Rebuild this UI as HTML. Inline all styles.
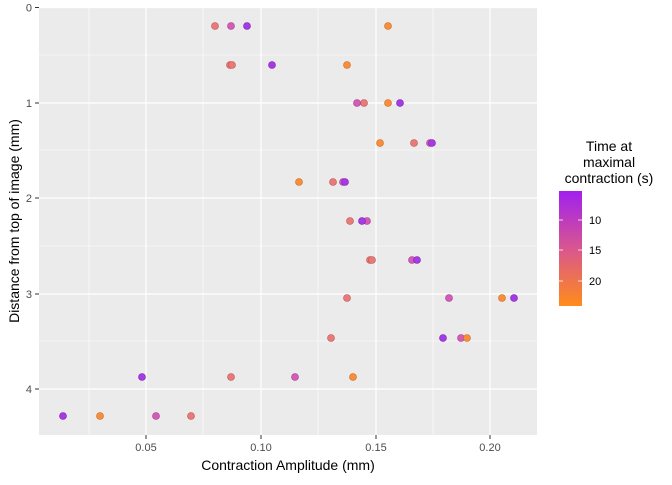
<!DOCTYPE html>
<html><head><style>body{margin:0;background:#fff}</style></head><body>
<svg width="672" height="480" xmlns="http://www.w3.org/2000/svg" font-family="Liberation Sans, sans-serif">
<defs><linearGradient id="g" x1="0" y1="0" x2="0" y2="1"><stop offset="0" stop-color="#A020F0"/><stop offset="0.5" stop-color="#D9568F"/><stop offset="1" stop-color="#FF8C1A"/></linearGradient></defs>
<rect x="39" y="7" width="498" height="428" fill="#EBEBEB"/>
<g stroke="#fff" stroke-width="0.6">
<line x1="89" y1="7" x2="89" y2="435"/><line x1="203" y1="7" x2="203" y2="435"/><line x1="318" y1="7" x2="318" y2="435"/><line x1="433" y1="7" x2="433" y2="435"/>
<line x1="39" y1="55" x2="537" y2="55"/><line x1="39" y1="150" x2="537" y2="150"/><line x1="39" y1="246" x2="537" y2="246"/><line x1="39" y1="341" x2="537" y2="341"/>
</g>
<g stroke="#fff" stroke-width="1.2">
<line x1="146" y1="7" x2="146" y2="435"/><line x1="261" y1="7" x2="261" y2="435"/><line x1="376" y1="7" x2="376" y2="435"/><line x1="490" y1="7" x2="490" y2="435"/>
<line x1="39" y1="7.5" x2="537" y2="7.5"/><line x1="39" y1="103" x2="537" y2="103"/><line x1="39" y1="198" x2="537" y2="198"/><line x1="39" y1="294" x2="537" y2="294"/><line x1="39" y1="389" x2="537" y2="389"/>
</g>
<g stroke="#333" stroke-width="1">
<line x1="35" y1="7.5" x2="39" y2="7.5"/><line x1="35" y1="103" x2="39" y2="103"/><line x1="35" y1="198" x2="39" y2="198"/><line x1="35" y1="294" x2="39" y2="294"/><line x1="35" y1="389" x2="39" y2="389"/>
<line x1="146" y1="435" x2="146" y2="439"/><line x1="261" y1="435" x2="261" y2="439"/><line x1="376" y1="435" x2="376" y2="439"/><line x1="490" y1="435" x2="490" y2="439"/>
</g>
<g font-size="11" fill="#4D4D4D" text-anchor="end">
<text x="32" y="11.5">0</text><text x="32" y="107">1</text><text x="32" y="202">2</text><text x="32" y="298">3</text><text x="32" y="393">4</text>
</g>
<g font-size="11" fill="#4D4D4D" text-anchor="middle">
<text x="146" y="451">0.05</text><text x="261" y="451">0.10</text><text x="376" y="451">0.15</text><text x="490" y="451">0.20</text>
</g>
<text x="288" y="470" font-size="14" text-anchor="middle">Contraction Amplitude (mm)</text>
<text transform="translate(19,221) rotate(-90)" font-size="14" text-anchor="middle">Distance from top of image (mm)</text>
<g stroke-width="0.6">
<g fill="#E87A7A" stroke="#C05050">
<circle cx="215" cy="26" r="3.5"/><circle cx="230" cy="65" r="3.5"/><circle cx="364" cy="103" r="3.5"/><circle cx="414" cy="143" r="3.5"/><circle cx="333" cy="182" r="3.5"/><circle cx="350" cy="221" r="3.5"/><circle cx="370" cy="260" r="3.5"/><circle cx="372" cy="260" r="3.5"/><circle cx="347" cy="298" r="3.5"/><circle cx="331" cy="338" r="3.5"/><circle cx="231" cy="377" r="3.5"/><circle cx="191" cy="416" r="3.5"/><circle cx="232" cy="65" r="3.5"/>
</g>
<g fill="#D45CB8" stroke="#A03C8C">
<circle cx="231" cy="26" r="3.5"/><circle cx="357" cy="103" r="3.5"/><circle cx="430" cy="143" r="3.5"/><circle cx="343" cy="182" r="3.5"/><circle cx="367" cy="221" r="3.5"/><circle cx="412" cy="260" r="3.5"/><circle cx="449" cy="298" r="3.5"/><circle cx="461" cy="338" r="3.5"/><circle cx="295" cy="377" r="3.5"/><circle cx="156" cy="416" r="3.5"/>
</g>
<g fill="#A63BE6" stroke="#7A20B0">
<circle cx="247" cy="26" r="3.5"/><circle cx="272" cy="65" r="3.5"/><circle cx="400" cy="103" r="3.5"/><circle cx="432" cy="143" r="3.5"/><circle cx="345" cy="182" r="3.5"/><circle cx="362" cy="221" r="3.5"/><circle cx="417" cy="260" r="3.5"/><circle cx="514" cy="298" r="3.5"/><circle cx="443" cy="338" r="3.5"/><circle cx="142" cy="377" r="3.5"/><circle cx="63" cy="416" r="3.5"/>
</g>
<g fill="#F98D3A" stroke="#C86A20">
<circle cx="388" cy="26" r="3.5"/><circle cx="347" cy="65" r="3.5"/><circle cx="388" cy="103" r="3.5"/><circle cx="380" cy="143" r="3.5"/><circle cx="299" cy="182" r="3.5"/><circle cx="502" cy="298" r="3.5"/><circle cx="467" cy="338" r="3.5"/><circle cx="353" cy="377" r="3.5"/><circle cx="100" cy="416" r="3.5"/>
</g>
</g>
<g font-size="14" text-anchor="middle">
<text x="609" y="151">Time at</text><text x="609" y="167">maximal</text><text x="609" y="183">contraction (s)</text>
</g>
<rect x="559" y="191" width="23" height="115" fill="url(#g)"/>
<g stroke="#fff" stroke-width="0.8">
<line x1="559" y1="220" x2="563" y2="220"/><line x1="578" y1="220" x2="582" y2="220"/>
<line x1="559" y1="250" x2="563" y2="250"/><line x1="578" y1="250" x2="582" y2="250"/>
<line x1="559" y1="281" x2="563" y2="281"/><line x1="578" y1="281" x2="582" y2="281"/>
</g>
<g font-size="11" fill="#000">
<text x="589" y="224">10</text><text x="589" y="254">15</text><text x="589" y="285">20</text>
</g>
</svg>
</body></html>
